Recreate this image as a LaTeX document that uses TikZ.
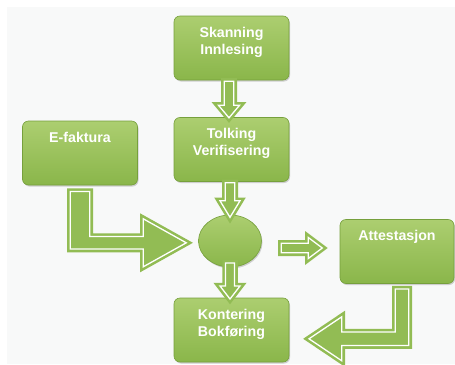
\documentclass[tikz,border=0pt]{standalone}
\usepackage{fontspec}
\setmainfont{Liberation Sans}
\usepackage{tikz}
\usetikzlibrary{positioning,shapes.geometric,shadows}

\definecolor{boxtop}{RGB}{172,206,112}
\definecolor{boxbot}{RGB}{138,182,74}
\definecolor{boxline}{RGB}{118,160,60}
\definecolor{arrowgreen}{RGB}{146,188,84}
\definecolor{bgpanel}{RGB}{248,249,249}

\begin{document}
\begin{tikzpicture}[x=1pt,y=-1pt,
    box/.style={rectangle, rounded corners=6pt, draw=boxline, line width=0.6pt,
        top color=boxtop, bottom color=boxbot,
        minimum width=115pt, minimum height=64pt, inner sep=0pt,
        text=white, align=center, text height=10pt, text depth=32pt,
        font=\fontsize{14.2}{17}\selectfont\bfseries,
        drop shadow={shadow xshift=1pt, shadow yshift=-1.5pt, opacity=0.35}},
    twoline/.style={text height=27pt, text depth=15pt},
    hub/.style={ellipse, draw=boxline, line width=0.6pt,
        top color=boxtop, bottom color=boxbot,
        minimum width=63pt, minimum height=52pt, inner sep=0pt,
        drop shadow={shadow xshift=1pt, shadow yshift=-1.5pt, opacity=0.35}},
    blockarrow/.style={fill=arrowgreen, draw=arrowgreen, line width=2.6pt,
        double=white, double distance=1.3pt, line join=miter}]

    % Background
    \useasboundingbox (0,0) rectangle (455,364);
    \fill[bgpanel] (7,7) rectangle (455,364);

    % Boxes
    \node[box, twoline] (skan) at (231.5,48) {Skanning\\Innlesing};
    \node[box, twoline] (tolk) at (231.5,149.5) {Tolking\\Verifisering};
    \node[box] (efak) at (80,153) {E-faktura};
    \node[box, minimum width=114pt] (att) at (397,251.5) {Attestasjon};
    \node[box, twoline] (kont) at (231.5,330) {Kontering\\Bokføring};
    \node[hub] (hub) at (230,241) {};

    % Straight arrows
    \draw[blockarrow] ([shift={(-7.25,1)}]skan.south) -- ++(9.5,0) -- ++(0,24)
        -- ++(5.75,0) -- ++(-10.5,12.5) -- ++(-10.5,-12.5) -- ++(5.75,0) -- cycle;
    \draw[blockarrow] ([shift={(-6.25,1)}]tolk.south) -- ++(9.5,0) -- ++(0,18)
        -- ++(5.25,0) -- ++(-10,16.5) -- ++(-10,-16.5) -- ++(5.25,0) -- cycle;
    \draw[blockarrow] ([shift={(-4.5,22)}]hub.center) -- ++(9,0) -- ++(0,23)
        -- ++(5.5,0) -- ++(-10,13) -- ++(-10,-13) -- ++(5.5,0) -- cycle;
    \draw[blockarrow] ([shift={(19.5,2.25)}]hub.east) -- ++(27,0) -- ++(0,-5.75)
        -- ++(14,10.5) -- ++(-14,10.5) -- ++(0,-5.75) -- ++(-27,0) -- cycle;

    % Bent arrows
    \draw[blockarrow] ([shift={(-9.75,6.25)}]efak.south) -- ++(19.5,0) -- ++(0,45)
        -- ++(53.5,0) -- ++(0,-17.75) -- ++(43,24) -- ++(-43,24) -- ++(0,-17.75)
        -- ++(-73,0) -- cycle;
    \draw[blockarrow] ([shift={(-1.75,5.25)}]att.south) -- ++(13.5,0) -- ++(0,56.5)
        -- ++(-67,0) -- ++(0,15.25) -- ++(-32.75,-22) -- ++(32.75,-22) -- ++(0,15.25)
        -- ++(53.5,0) -- cycle;
\end{tikzpicture}
\end{document}
